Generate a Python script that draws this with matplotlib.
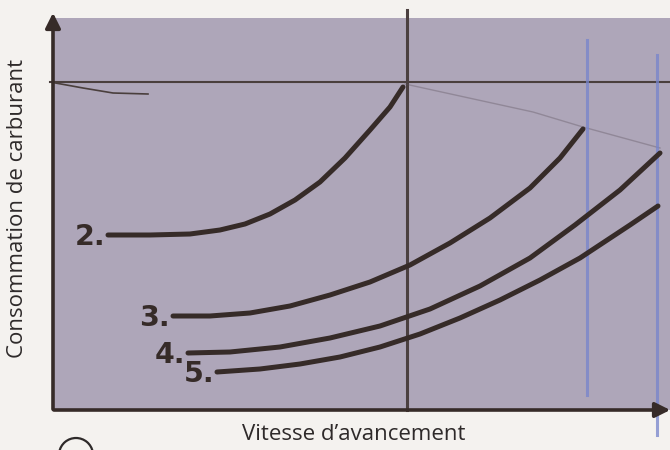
import matplotlib
matplotlib.use("Agg")
import matplotlib.pyplot as plt
from matplotlib.patches import Arc

# Data (arbitrary units: speed along x, fuel consumption along y)
c2_x = [55, 97, 137, 167, 192, 217, 242, 267, 292, 317, 337, 350]
c2_y = [175, 175, 176, 180, 186, 196, 210, 228, 252, 280, 303, 323]
c3_x = [120, 157, 197, 237, 277, 317, 357, 397, 437, 477, 507, 530]
c3_y = [94, 94, 97, 104, 115, 128, 145, 167, 192, 222, 252, 281]
c4_x = [135, 177, 227, 277, 327, 377, 427, 477, 522, 567, 607]
c4_y = [57, 58, 63, 72, 84, 101, 124, 152, 185, 220, 257]
c5_x = [164, 207, 247, 287, 327, 367, 407, 447, 487, 527, 577, 605]
c5_y = [38, 41, 46, 53, 63, 76, 92, 110, 130, 152, 185, 204]
curves = [("2.", c2_x, c2_y), ("3.", c3_x, c3_y), ("4.", c4_x, c4_y), ("5.", c5_x, c5_y)]
ref_y = 328          # horizontal reference line
ref_x = 354          # vertical reference line
blue_x = [534, 604]  # hand-drawn blue marks

ink = "#362b28"
fig = plt.figure(figsize=(6.7, 4.5), dpi=100, facecolor="#f4f2ef")
ax = fig.add_axes([53/670, 40/450, 617/670, 392/450])
ax.set_xlim(0, 617)
ax.set_ylim(0, 392)
ax.set_facecolor("#aea6b9")
for s in ax.spines.values():
    s.set_visible(False)
ax.set_xticks([])
ax.set_yticks([])

# axes with arrows
ax.annotate("", xy=(0, 400), xytext=(0, -2), xycoords="data",
            arrowprops=dict(arrowstyle="-|>,head_length=0.9,head_width=0.45", color=ink, lw=2.6),
            annotation_clip=False)
ax.annotate("", xy=(620, 0), xytext=(-2, 0), xycoords="data",
            arrowprops=dict(arrowstyle="-|>,head_length=0.9,head_width=0.45", color=ink, lw=2.6),
            annotation_clip=False)

# reference lines
ax.plot([-3, 617], [ref_y, ref_y], color="#4a3f3d", lw=1.5, clip_on=False)
ax.plot([-3, 30, 60, 95], [ref_y, 322, 317, 316], color="#4a3f3d", lw=1.2, clip_on=False)
ax.plot([ref_x, ref_x], [0, 400], color="#4b4040", lw=2.2, clip_on=False)
ax.plot([352, 480, 530, 607], [326, 298, 283, 262], color="#5a4f5a", lw=1.0, alpha=0.35)
ax.plot([blue_x[0], blue_x[0]], [15, 370], color="#7684cc", lw=2.2, alpha=0.75)
ax.plot([blue_x[1], blue_x[1]], [-25, 355], color="#7684cc", lw=2.2, alpha=0.75, clip_on=False)

for lab, xs, ys in curves:
    ax.plot(xs, ys, color=ink, lw=3.6, solid_capstyle="round", solid_joinstyle="round")
    ax.text(xs[0] - 3, ys[0] - 2, lab, ha="right", va="center", fontsize=20.5,
            fontweight="heavy", color=ink, family="DejaVu Sans")

fig.text(354/670, 1 - 434/450, "Vitesse d\u2019avancement", ha="center", va="center",
         fontsize=16, color="#2e2a2a", family="Open Sans")
fig.text(18/670, 1 - 208/450, "Consommation de carburant", ha="center", va="center",
         rotation=90, fontsize=16, color="#2e2a2a", family="Open Sans")

arc = Arc((76, -5), 34, 34, theta1=10, theta2=170, transform=None, color="#2e2a2a", lw=1.6)
fig.add_artist(arc)

fig.savefig("out.png", dpi=100, facecolor=fig.get_facecolor())
